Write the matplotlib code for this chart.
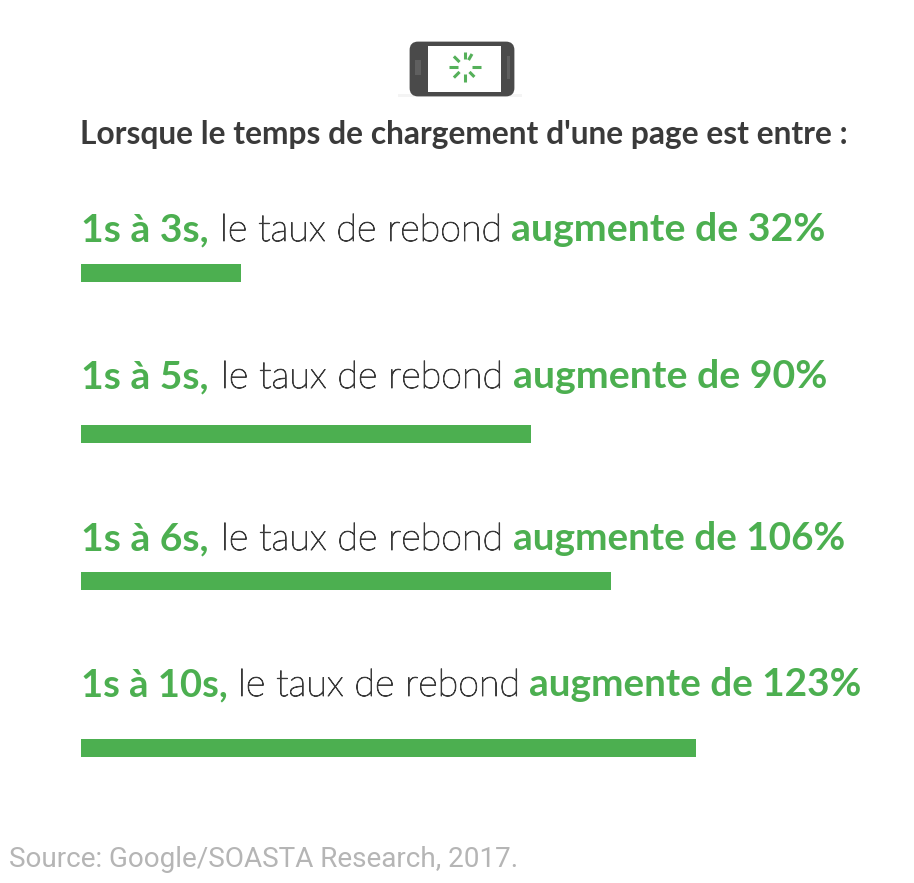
import numpy as np
import matplotlib
matplotlib.use("Agg")
import matplotlib.pyplot as plt
import matplotlib.patheffects as pe
from matplotlib.patches import FancyBboxPatch, Rectangle

# --- data ---
ranges = ["1s à 3s,", "1s à 5s,", "1s à 6s,", "1s à 10s,"]
increases = [32, 90, 106, 123]
middle_text = "le taux de rebond"
value_prefix = "augmente de"
title = "Lorsque le temps de chargement d'une page est entre :"
source = "Source: Google/SOASTA Research, 2017."

# --- layout (pixels in the 914x883 picture) ---
W, H = 914, 883
GREEN = "#4caf50"
DARK = "#3a3a3a"
bar_centers = [273, 434, 581, 748]
text_baselines = [241, 388, 550, 696]
middle_x = [220, 221, 221, 238]
right_x = [511, 513, 513, 529]
# the original font has a narrower "1", so the rows holding one are a bit smaller
left_sizes = [28.2, 28.2, 28.2, 27.5]
right_sizes = [28.3, 28.3, 27.9, 27.9]
PX_PER_UNIT = 5

fig = plt.figure(figsize=(W / 100, H / 100), dpi=100, facecolor="white")

# overlay in pixel coordinates for text and the phone icon
canvas = fig.add_axes([0, 0, 1, 1])
canvas.set_xlim(0, W)
canvas.set_ylim(H, 0)
canvas.axis("off")

# bar axes, x in percent, y in picture pixels
left = 81
ax = fig.add_axes([left / W, 0, 1 - left / W, 1])
ax.set_xlim(0, (W - left) / PX_PER_UNIT)
ax.set_ylim(H, 0)
ax.axis("off")
ax.patch.set_alpha(0)
ax.barh(bar_centers, increases, height=18, color=GREEN, linewidth=0)

# title and rows
canvas.text(80, 144, title, fontsize=22.85, family="Lato", weight="bold",
            color=DARK, va="baseline")
# the light Lato comes out as a hairline, a thin stroke brings it back to the right weight
thicken = [pe.withStroke(linewidth=0.7, foreground=DARK)]
for i, label in enumerate(ranges):
    y = text_baselines[i]
    canvas.text(81, y, label, fontsize=left_sizes[i], family="Lato", weight="bold",
                color=GREEN, va="baseline")
    canvas.text(middle_x[i], y, middle_text, fontsize=27.2, family="Lato",
                weight="light", color=DARK, va="baseline", path_effects=thicken)
    canvas.text(right_x[i], y, f"{value_prefix} {increases[i]}%", fontsize=right_sizes[i],
                family="Lato", weight="bold", color=GREEN, va="baseline")

canvas.text(9, 867, source, fontsize=20.1, family="Roboto", color="#b5b5b5",
            va="baseline")

# phone icon
canvas.add_patch(Rectangle((398, 94), 124, 3, color="#f4f4f4", lw=0))
canvas.add_patch(FancyBboxPatch((411, 43), 102, 52, boxstyle="round,pad=0,rounding_size=7",
                                fc="#4a4a4a", ec="#4a4a4a", lw=2))
canvas.add_patch(Rectangle((428, 46), 73, 46, color="white", lw=0))
canvas.add_patch(Rectangle((415, 60), 6, 15, color="#5f5f5f", lw=0))
canvas.add_patch(Rectangle((507, 56), 3, 23, color="#5f5f5f", lw=0))
cx, cy = 464.5, 67
for deg, r0, r1 in [(0, 7, 16), (90, 8, 15), (135, 7, 15), (180, 7, 16),
                    (225, 7, 15), (270, 7, 15), (315, 7, 14), (60, 8, 15)]:
    a = np.radians(deg)
    canvas.plot([cx + r0 * np.cos(a), cx + r1 * np.cos(a)],
                [cy - r0 * np.sin(a), cy - r1 * np.sin(a)],
                color="#55b05a", lw=2.2, solid_capstyle="butt")

fig.savefig("out.png", dpi=100, facecolor="white")
